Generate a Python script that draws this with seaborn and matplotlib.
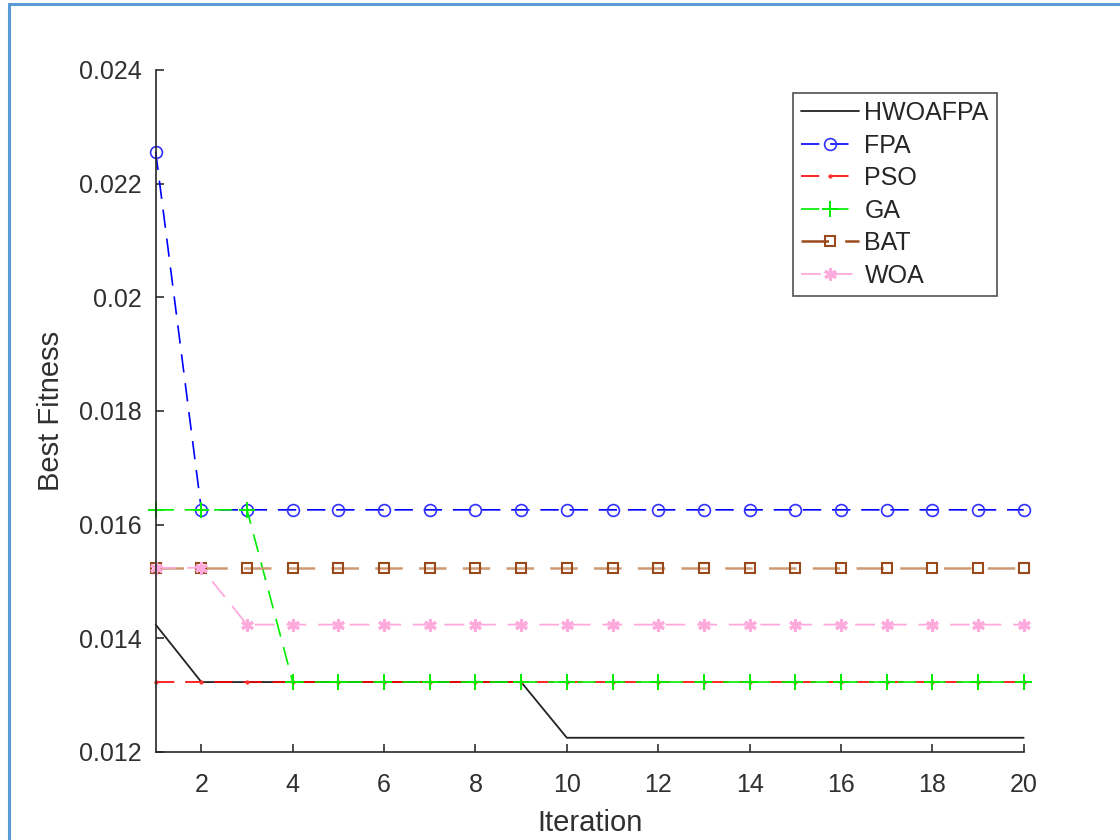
import numpy as np
import pandas as pd
import matplotlib
matplotlib.use("Agg")
import matplotlib.pyplot as plt
import seaborn as sns
from matplotlib.lines import Line2D

# Datos
iterations = list(range(1, 21))
hwoafpa = [0.01424] + [0.01323] * 8 + [0.01225] * 11
fpa = [0.02256] + [0.01626] * 19
pso = [0.01323] * 20
ga = [0.01626] * 3 + [0.01323] * 17
bat = [0.01524] * 20
woa = [0.01524] * 2 + [0.01424] * 18

series_names = ["HWOAFPA", "FPA", "PSO", "GA", "BAT", "WOA"]
series_values = [hwoafpa, fpa, pso, ga, bat, woa]
x_ticks = list(range(2, 21, 2))
y_ticks = [0.012, 0.014, 0.016, 0.018, 0.020, 0.022, 0.024]

sns.set_style("ticks")
plt.rcParams["font.family"] = ["Liberation Sans", "DejaVu Sans"]

fig = plt.figure(figsize=(11.2, 8.4), dpi=100)
ax = fig.add_axes([0.139, 0.1048, 0.775, 0.812])

dash = (0, (11, 6.5))
styles = {
    "HWOAFPA": dict(color="#222222", linestyle="-", marker=None, lw=1.3),
    "FPA": dict(color="#0000ff", linestyle=dash, marker="o", ms=8.5, mfc="none",
                mec="#3030ff", mew=1.2, lw=1.2),
    "PSO": dict(color="#ff0000", linestyle=dash, marker=".", ms=5, mfc="#ff3030",
                mec="#ff3030", mew=0.5, lw=1.2),
    "GA": dict(color="#00ee00", linestyle=dash, marker="+", ms=11, mec="#00ee00",
               mew=1.4, lw=1.2),
    "BAT": dict(color="#cc9a74", linestyle=dash, marker="s", ms=6.5, mfc="none",
                mec="#9a4a1a", mew=1.5, lw=1.8),
    "WOA": dict(color="#ffaadd", linestyle=dash, marker=(6, 2, 0), ms=9, mew=2.2,
                mec="#ffaadd", lw=1.3),
}

for name, vals in zip(series_names, series_values):
    st = dict(styles[name])
    lw = st.pop("lw")
    sns.lineplot(x=iterations, y=vals, ax=ax, label=name, linewidth=lw,
                 clip_on=False, **st)

ax.set_xlim(1, 20)
ax.set_ylim(0.012, 0.024)
ax.set_xticks(x_ticks)
ax.set_yticks(y_ticks)
ax.set_yticklabels([f"{v:g}" for v in y_ticks])
ax.tick_params(direction="in", length=6, width=1.2, labelsize=18,
               colors="#303030")
ax.tick_params(axis="x", pad=15)
ax.tick_params(axis="y", pad=10)
sns.despine(ax=ax)
for side in ["left", "bottom"]:
    ax.spines[side].set_linewidth(1.2)
    ax.spines[side].set_color("#262626")

ax.set_xlabel("Iteration", fontsize=21, color="#303030", labelpad=9)
ax.set_ylabel("Best Fitness", fontsize=21, color="#303030", labelpad=10)

leg = ax.legend(loc="upper right", bbox_to_anchor=(0.969, 0.966), fontsize=18,
                frameon=True, fancybox=False, edgecolor="#262626",
                handlelength=2.35, handletextpad=0.2, labelspacing=0.34,
                borderpad=0.32, borderaxespad=0)
leg.get_frame().set_linewidth(1.2)
leg.get_lines()[4].set_color("#9a4a1a")

# borde azul de la captura
fig.add_artist(Line2D([0.008, 0.008], [0.0, 0.995], color="#5b9bd5", lw=2.2,
                      transform=fig.transFigure))
fig.add_artist(Line2D([0.008, 1.0], [0.995, 0.995], color="#5b9bd5", lw=2.2,
                      transform=fig.transFigure))

fig.savefig("out.png", dpi=100)
